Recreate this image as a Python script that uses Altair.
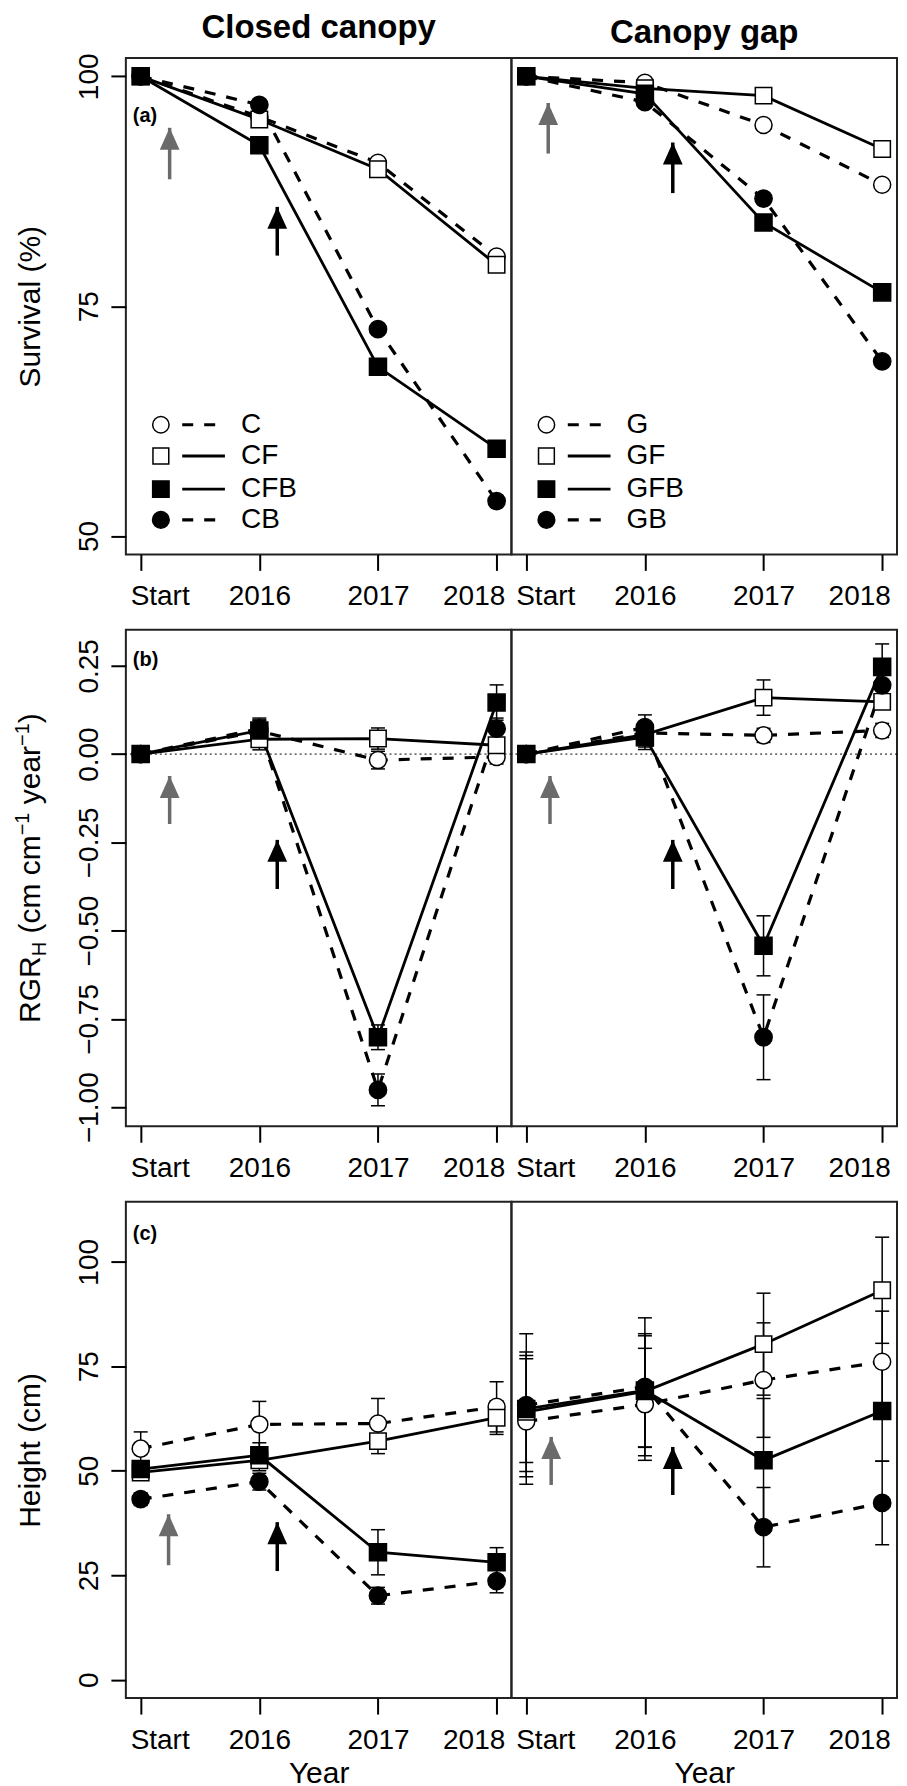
import altair as alt
import pandas as pd

FONT = "Liberation Sans, Arial, Helvetica, sans-serif"

# ---------------- data ----------------
x_pos = [1, 2, 3, 4]
x_labels = ["Start", "2016", "2017", "2018"]
col_titles = ["Closed canopy", "Canopy gap"]
closed_names = ["C", "CF", "CFB", "CB"]
gap_names = ["G", "GF", "GFB", "GB"]

# Survival (%)
surv_C = [100, 95.6, 90.6, 80.4]
surv_CF = [100, 95.3, 89.9, 79.5]
surv_CFB = [100, 92.5, 68.4, 59.5]
surv_CB = [100, 96.9, 72.5, 53.8]
surv_G = [100, 99.3, 94.7, 88.2]
surv_GF = [100, 98.7, 97.9, 92.1]
surv_GFB = [100, 98.1, 84.1, 76.5]
surv_GB = [100, 97.2, 86.7, 69.0]

# RGR_H (cm cm-1 year-1) and standard errors
rgr_C = [0, 0.065, -0.017, -0.008]
rgr_CF = [0, 0.042, 0.044, 0.025]
rgr_CFB = [0, 0.067, -0.802, 0.146]
rgr_CB = [0, 0.072, -0.951, 0.072]
rgr_G = [0, 0.060, 0.053, 0.067]
rgr_GF = [0, 0.055, 0.160, 0.148]
rgr_GFB = [0, 0.048, -0.543, 0.247]
rgr_GB = [0, 0.076, -0.802, 0.195]
rgr_se_C = [0, 0.030, 0.025, 0.020]
rgr_se_CF = [0, 0.030, 0.030, 0.020]
rgr_se_CFB = [0, 0.030, 0.035, 0.050]
rgr_se_CB = [0, 0.030, 0.045, 0.030]
rgr_se_G = [0, 0.030, 0.020, 0.020]
rgr_se_GF = [0, 0.035, 0.050, 0.020]
rgr_se_GFB = [0, 0.035, 0.085, 0.065]
rgr_se_GB = [0, 0.035, 0.120, 0.040]

# Height (cm) and standard errors
ht_C = [55.3, 61.1, 61.3, 65.3]
ht_CF = [49.6, 52.5, 57.1, 62.7]
ht_CFB = [50.4, 53.7, 30.5, 28.1]
ht_CB = [43.2, 47.4, 20.1, 23.6]
ht_G = [61.8, 65.9, 71.7, 76.1]
ht_GF = [64.1, 69.0, 80.3, 93.2]
ht_GFB = [64.8, 69.2, 52.5, 64.3]
ht_GB = [65.7, 70.1, 36.5, 42.3]
ht_se_C = [4.0, 5.5, 6.0, 6.0]
ht_se_CF = [1.5, 2.5, 3.0, 4.0]
ht_se_CFB = [1.5, 3.0, 5.4, 3.5]
ht_se_CB = [1.5, 2.0, 2.0, 2.8]
ht_se_G = [15.0, 13.4, 13.7, 12.1]
ht_se_GF = [14.3, 13.3, 12.2, 12.7]
ht_se_GFB = [12.8, 13.6, 14.8, 12.0]
ht_se_GB = [17.1, 16.5, 9.5, 10.0]

# arrows: x, tail y, tip y  (grey = first, black = second)
arrow_a_closed = [(1.244, 88.8, 94.4), (2.151, 80.5, 85.8)]
arrow_a_gap = [(1.185, 91.6, 97.1), (2.235, 87.3, 92.8)]
arrow_b_closed = [(1.244, -0.198, -0.062), (2.151, -0.382, -0.243)]
arrow_b_gap = [(1.200, -0.198, -0.062), (2.235, -0.382, -0.243)]
arrow_c_closed = [(1.235, 27.4, 39.6), (2.151, 26.0, 37.7)]
arrow_c_gap = [(1.210, 46.6, 58.1), (2.235, 44.2, 55.7)]

# ---------------- style ----------------
W, H = 386, 497
ROW_GAP = 75.5
XDOM = [0.875, 4.125]
shapes = ["circle", "square", "square", "circle"]
fills = ["white", "white", "black", "black"]
dashed = [True, False, False, True]
sizes = [290, 270, 290, 300]
DASH = [11, 11]
ARROW_COLORS = ["#6b6b6b", "black"]
HEAD = "M0,0L0.9,2L-0.9,2Z"

values = [
    [[surv_C, surv_CF, surv_CFB, surv_CB], [surv_G, surv_GF, surv_GFB, surv_GB]],
    [[rgr_C, rgr_CF, rgr_CFB, rgr_CB], [rgr_G, rgr_GF, rgr_GFB, rgr_GB]],
    [[ht_C, ht_CF, ht_CFB, ht_CB], [ht_G, ht_GF, ht_GFB, ht_GB]],
]
errors = [
    [None, None],
    [[rgr_se_C, rgr_se_CF, rgr_se_CFB, rgr_se_CB], [rgr_se_G, rgr_se_GF, rgr_se_GFB, rgr_se_GB]],
    [[ht_se_C, ht_se_CF, ht_se_CFB, ht_se_CB], [ht_se_G, ht_se_GF, ht_se_GFB, ht_se_GB]],
]
arrows = [
    [arrow_a_closed, arrow_a_gap],
    [arrow_b_closed, arrow_b_gap],
    [arrow_c_closed, arrow_c_gap],
]
ROWS = [
    dict(domain=[48, 102], ticks=[50, 75, 100], fmt="d", title="Survival (%)", label="(a)", label_y=58),
    dict(domain=[-1.054, 0.352], ticks=[-1, -0.75, -0.5, -0.25, 0, 0.25], fmt=".2f", title=None, label="(b)", label_y=30),
    dict(domain=[-4.4, 114.4], ticks=[0, 25, 50, 75, 100], fmt="d", title="Height (cm)", label="(c)", label_y=32),
]
# legend placement (in data units of the survival panels)
LEG_Y = [62.1, 58.7, 55.1, 51.75]
LEG_SYM_X, LEG_L1, LEG_L2, LEG_TXT_X = 1.17, 1.35, 1.71, 1.845

label_expr = "[" + ",".join("'%s'" % l for l in x_labels) + "][datum.value - 1]"


def xaxis(row):
    kw = dict(
        values=x_pos, labelExpr=label_expr, tickSize=16, tickWidth=2, tickColor="black",
        domain=False, grid=False, labelFontSize=28, labelFont=FONT, labelColor="black",
        labelPadding=12, labelFlush=False, labelOverlap=False, labelBaseline="top", labelAlign="center",
        labelOffset={"condition": [{"test": "datum.value == 1", "value": 19},
                                   {"test": "datum.value == 4", "value": -23}], "value": 0},
        title=None,
    )
    if row == 2:
        kw.update(title="Year", titleFontSize=30, titleFont=FONT, titleFontWeight="normal",
                  titleColor="black", titleBaseline="alphabetic", titleY=84, titleX=W / 2,
                  titleAlign="center")
    return alt.Axis(**kw)


def xenc(row, field="x"):
    return alt.X(field + ":Q", scale=alt.Scale(domain=XDOM, nice=False, zero=False), axis=xaxis(row))


def yenc(row, col, field="v"):
    cfg = ROWS[row]
    scale = alt.Scale(domain=cfg["domain"], nice=False, zero=False)
    if col == 1:
        return alt.Y(field + ":Q", scale=scale, axis=None)
    kw = dict(
        values=cfg["ticks"], format=cfg["fmt"], tickSize=15, tickWidth=2, tickColor="black",
        domain=False, grid=False, labelAngle=270, labelAlign="center", labelBaseline="alphabetic",
        labelPadding=13, labelFontSize=28, labelFont=FONT, labelColor="black",
        labelFlush=False, labelOverlap=False, title=None,
    )
    if cfg["title"]:
        kw.update(title=cfg["title"], titleFontSize=30, titleFont=FONT, titleFontWeight="normal",
                  titleColor="black", titleAngle=270, titleAlign="center", titleBaseline="alphabetic",
                  titleX=-86, titleY=H / 2)
    return alt.Y(field + ":Q", scale=scale, axis=alt.Axis(**kw))


def text_width(s, size):
    wt = {"R": 722, "G": 778, "H": 722, " ": 278, "(": 333, ")": 333, "c": 500, "m": 833,
          "y": 500, "e": 556, "a": 556, "r": 333, "\u2212": 584, "1": 556}
    return sum(wt[ch] for ch in s) * size / 1000.0


def panel(row, col):
    names = closed_names if col == 0 else gap_names
    vals = values[row][col]
    errs = errors[row][col]
    X = xenc(row)
    layers = []

    if row == 1:
        layers.append(
            alt.Chart(pd.DataFrame({"v": [0.0]})).mark_rule(color="black", strokeWidth=1, strokeDash=[2, 3])
            .encode(y=yenc(row, col))
        )

    recs = []
    for k, name in enumerate(names):
        for i in range(4):
            v = vals[k][i]
            e = errs[k][i] if errs else 0.0
            recs.append(dict(s=name, k=k, x=x_pos[i], v=v, lo=v - e, hi=v + e, e=e))
    df = pd.DataFrame(recs)

    if errs:
        de = df[df.e > 0]
        layers.append(alt.Chart(de).mark_rule(color="black", strokeWidth=1.5)
                      .encode(x=X, y=yenc(row, col, "lo"), y2="hi:Q"))
        for fld in ["lo", "hi"]:
            layers.append(alt.Chart(de).mark_tick(orient="horizontal", color="black", size=14,
                                                  thickness=1.5, opacity=1)
                          .encode(x=X, y=yenc(row, col, fld)))

    for k, name in enumerate(names):
        d = df[df.k == k]
        if dashed[k]:
            m = alt.Chart(d).mark_line(color="black", strokeWidth=3.2, strokeDash=DASH)
        else:
            m = alt.Chart(d).mark_line(color="black", strokeWidth=2.8)
        layers.append(m.encode(x=X, y=yenc(row, col)))

    for k, name in enumerate(names):
        d = df[df.k == k]
        layers.append(alt.Chart(d).mark_point(shape=shapes[k], size=sizes[k], filled=True, fill=fills[k],
                                              stroke="black", strokeWidth=1.5, opacity=1, fillOpacity=1)
                      .encode(x=X, y=yenc(row, col)))

    # arrows
    for j, (ax, yt, yh) in enumerate(arrows[row][col]):
        da = pd.DataFrame({"x": [ax], "v": [yt], "tip": [yh]})
        layers.append(alt.Chart(da).mark_rule(color=ARROW_COLORS[j], strokeWidth=3.5)
                      .encode(x=X, y=yenc(row, col), y2="tip:Q"))
        dh = pd.DataFrame({"x": [ax], "v": [yh]})
        layers.append(alt.Chart(dh).mark_point(shape=HEAD, size=484, filled=True, fill=ARROW_COLORS[j],
                                               strokeWidth=0, opacity=1)
                      .encode(x=X, y=yenc(row, col)))

    # legend in survival panels
    if row == 0:
        dl = pd.DataFrame({"s": names, "k": [0, 1, 2, 3], "v": LEG_Y,
                           "x": [LEG_SYM_X] * 4, "x1": [LEG_L1] * 4, "x2": [LEG_L2] * 4,
                           "xt": [LEG_TXT_X] * 4})
        for k in range(4):
            d = dl[dl.k == k]
            layers.append(alt.Chart(d).mark_point(shape=shapes[k], size=sizes[k] - 20, filled=True,
                                                  fill=fills[k], stroke="black", strokeWidth=1.5,
                                                  opacity=1)
                          .encode(x=X, y=yenc(row, col)))
            if dashed[k]:
                r = alt.Chart(d).mark_rule(color="black", strokeWidth=3.2, strokeDash=DASH)
            else:
                r = alt.Chart(d).mark_rule(color="black", strokeWidth=2.8)
            layers.append(r.encode(x=xenc(row, "x1"), x2="x2:Q", y=yenc(row, col)))
        layers.append(alt.Chart(dl).mark_text(align="left", baseline="middle", fontSize=28, font=FONT,
                                              color="black")
                      .encode(x=xenc(row, "xt"), y=yenc(row, col), text="s:N"))

    # panel letter
    if col == 0:
        layers.append(alt.Chart(pd.DataFrame({"t": [ROWS[row]["label"]]}))
                      .mark_text(align="left", baseline="middle", fontSize=20, fontWeight="bold",
                                 font=FONT, color="black")
                      .encode(x=alt.value(7), y=alt.value(ROWS[row]["label_y"]), text="t:N"))

    # custom RGR_H axis title with sub/superscripts
    if row == 1 and col == 0:
        pieces = [("RGR", 30, 0), ("H", 20, 6), (" ", 30, None), ("(cm cm", 30, 0), ("\u22121", 20, -11),
                  (" ", 30, None), ("year", 30, 0), ("\u22121", 20, -11), (")", 30, 0)]
        total = sum(text_width(t, s) for t, s, _ in pieces)
        ystart = H / 2 - 10 + total / 2
        cum = 0.0
        for t, s, sh in pieces:
            if sh is not None:
                layers.append(alt.Chart(pd.DataFrame({"t": [t]}))
                              .mark_text(align="left", baseline="alphabetic", angle=270, fontSize=s,
                                         font=FONT, color="black")
                              .encode(x=alt.value(-86 + sh), y=alt.value(ystart - cum), text="t:N"))
            cum += text_width(t, s)
        # invisible anchor (in an untitled panel) fixing the page position of the whole grid
        ay = -(H + ROW_GAP) - 48
        layers.append(alt.Chart(pd.DataFrame({"a": [0]})).mark_rule(opacity=0, strokeWidth=1)
                      .encode(x=alt.value(-117), x2=alt.value(-116), y=alt.value(ay), y2=alt.value(ay + 1)))

    ch = alt.layer(*layers).properties(width=W, height=H)
    if row == 0:
        ch = ch.properties(title=alt.TitleParams(col_titles[col], fontSize=33, fontWeight="bold", font=FONT,
                                                 color="black", anchor="middle", offset=8, frame="group"))
    return ch


panels = [panel(r, c) for r in range(3) for c in range(2)]
chart = (
    alt.concat(*panels, columns=2, spacing={"row": ROW_GAP, "column": 0}, bounds="flush")
    .properties(padding=0)
    .configure_view(stroke="#222222", strokeWidth=2)
    .configure_axis(labelFont=FONT, titleFont=FONT)
)
chart.save("out.html", embed_options={"renderer": "svg", "actions": False})
